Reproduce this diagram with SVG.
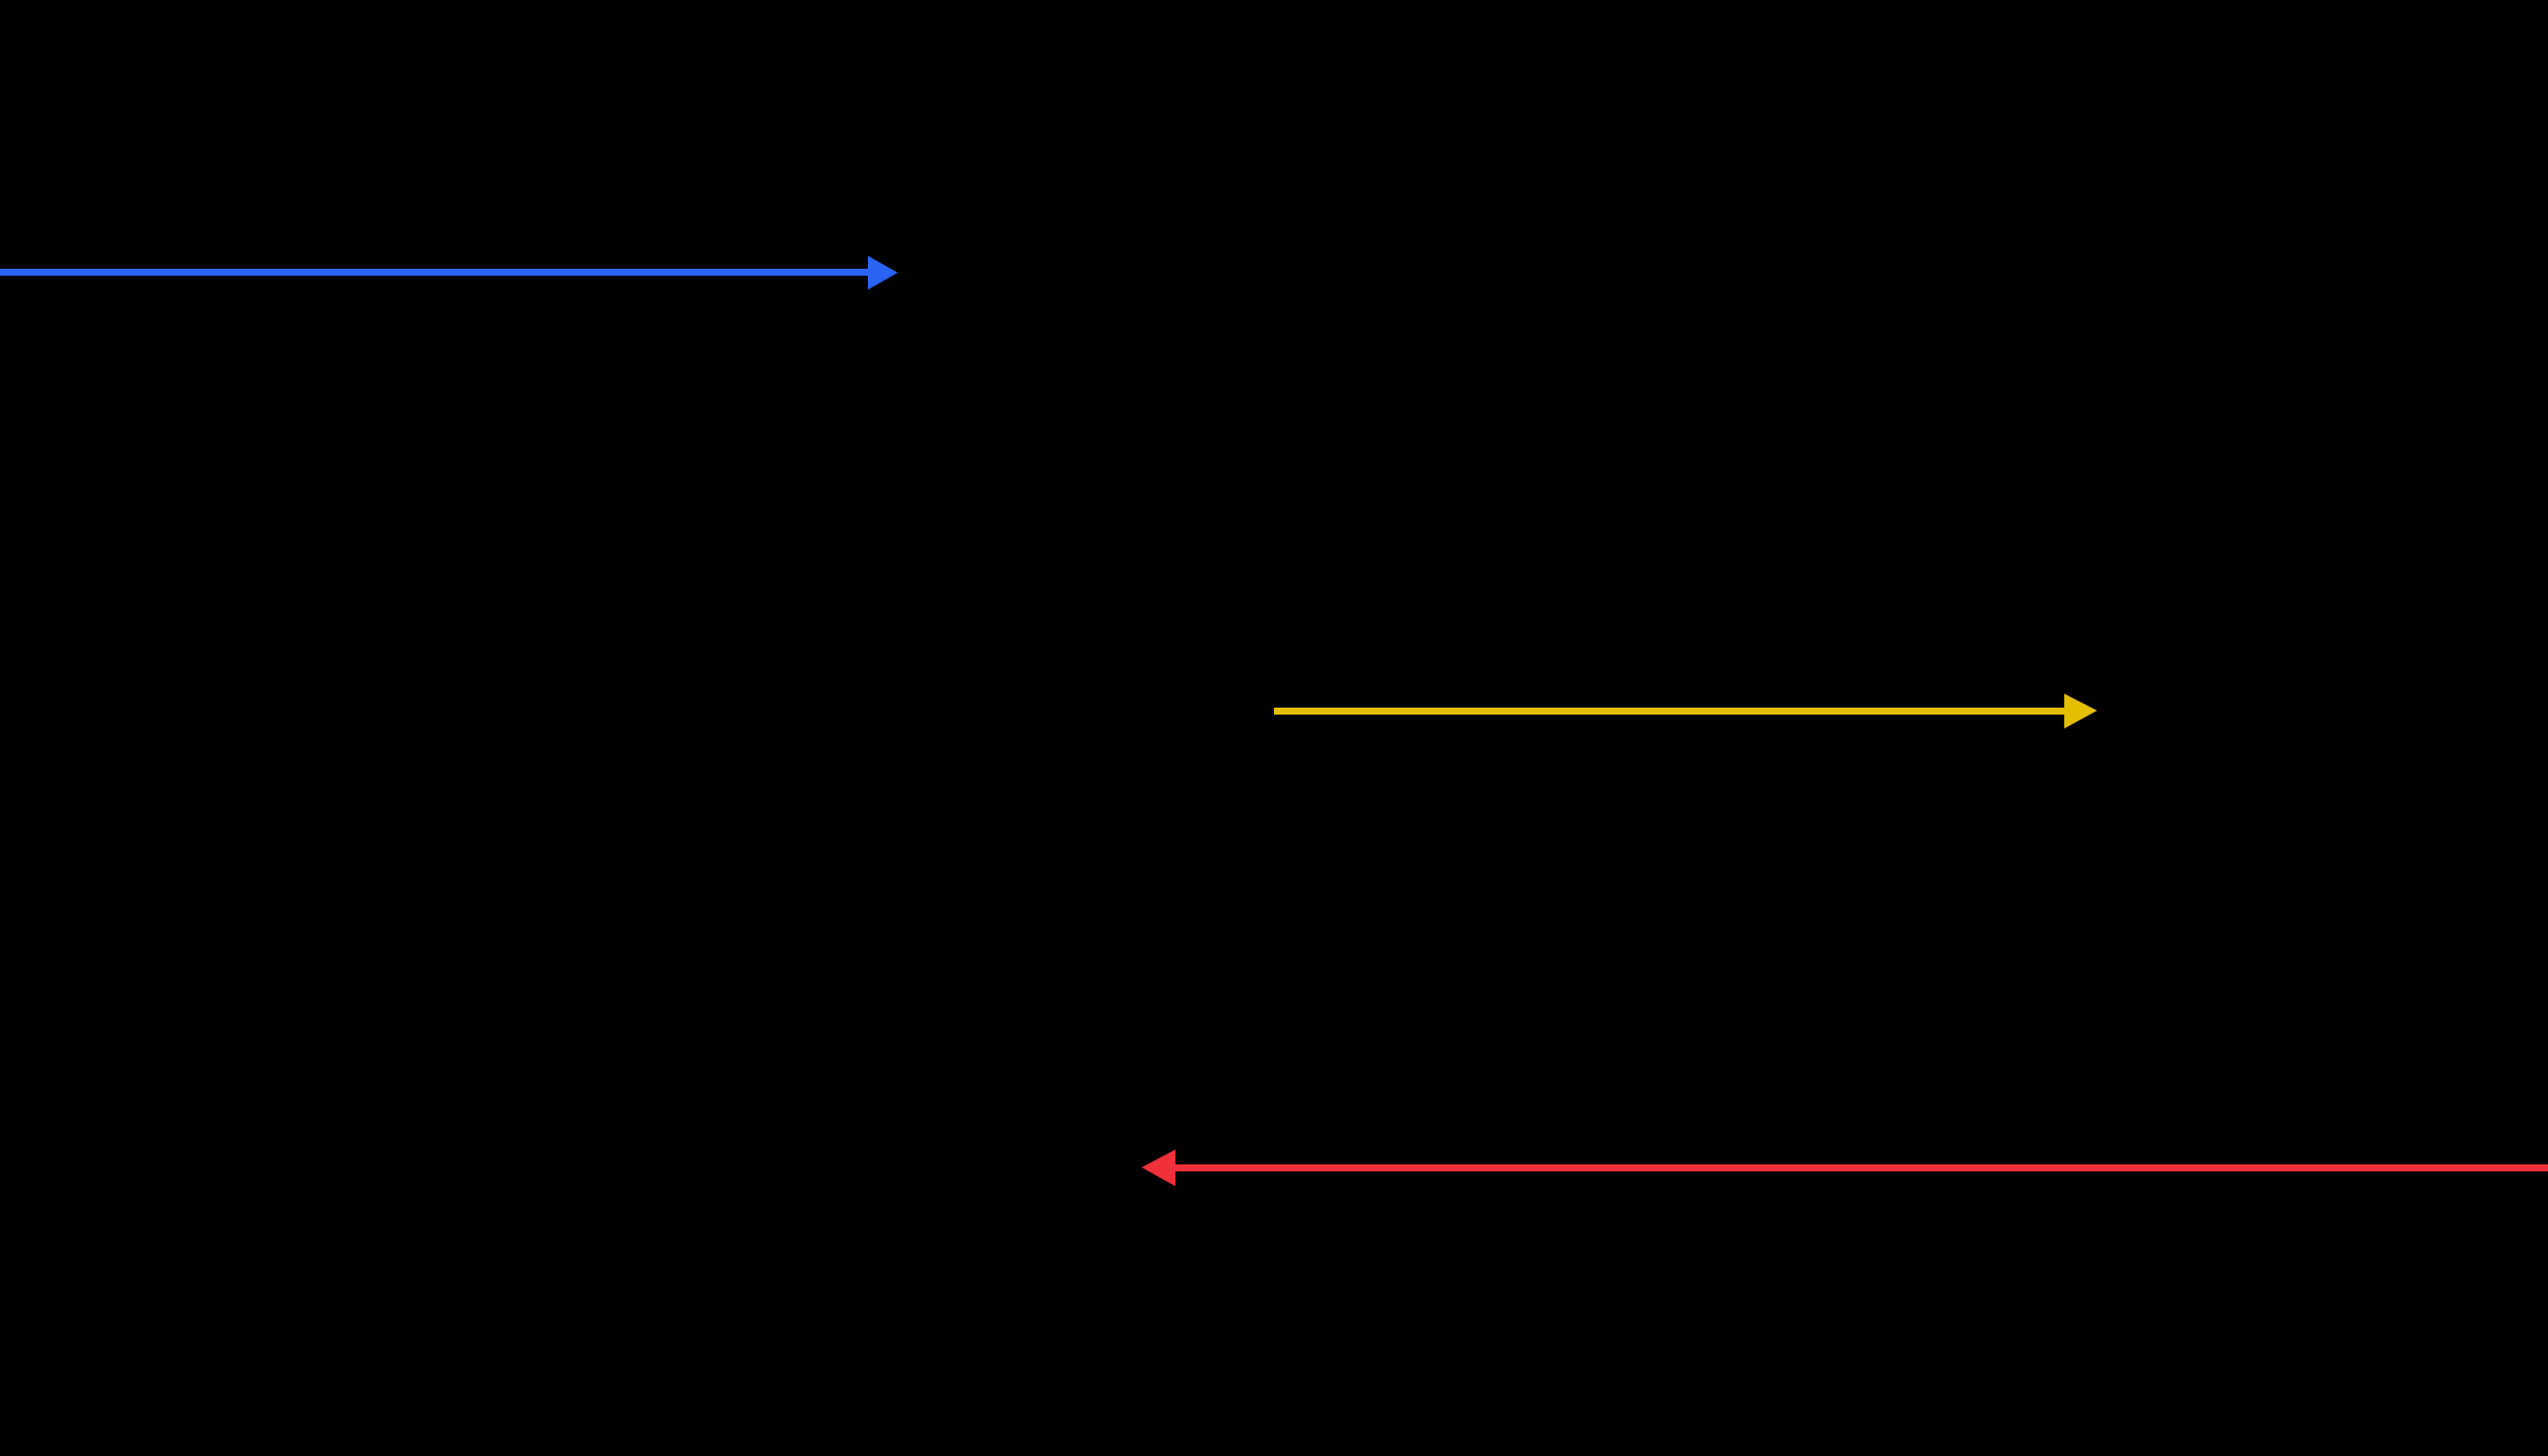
<svg xmlns="http://www.w3.org/2000/svg" width="2560" height="1463" viewBox="0 0 2560 1463">
<style>
.c{stroke-width:7;fill:none}
</style>
<rect width="2560" height="1463" fill="#000"/>
<g id="connectors">
<g id="blue">
<line class="c" x1="0" y1="273.5" x2="874" y2="273.5" stroke="#2a64f4"/>
<polygon points="872,257 902,274 872,291" fill="#2a64f4"/>
</g>
<g id="yellow">
<line class="c" x1="1280" y1="714.5" x2="2076" y2="714.5" stroke="#e3bf00"/>
<polygon points="2074,697 2107,714 2074,732" fill="#e3bf00"/>
</g>
<g id="red">
<line class="c" x1="2560" y1="1173.5" x2="1179" y2="1173.5" stroke="#f0303a"/>
<polygon points="1181,1155 1147,1173 1181,1192" fill="#f0303a"/>
</g>
</g>
</svg>
